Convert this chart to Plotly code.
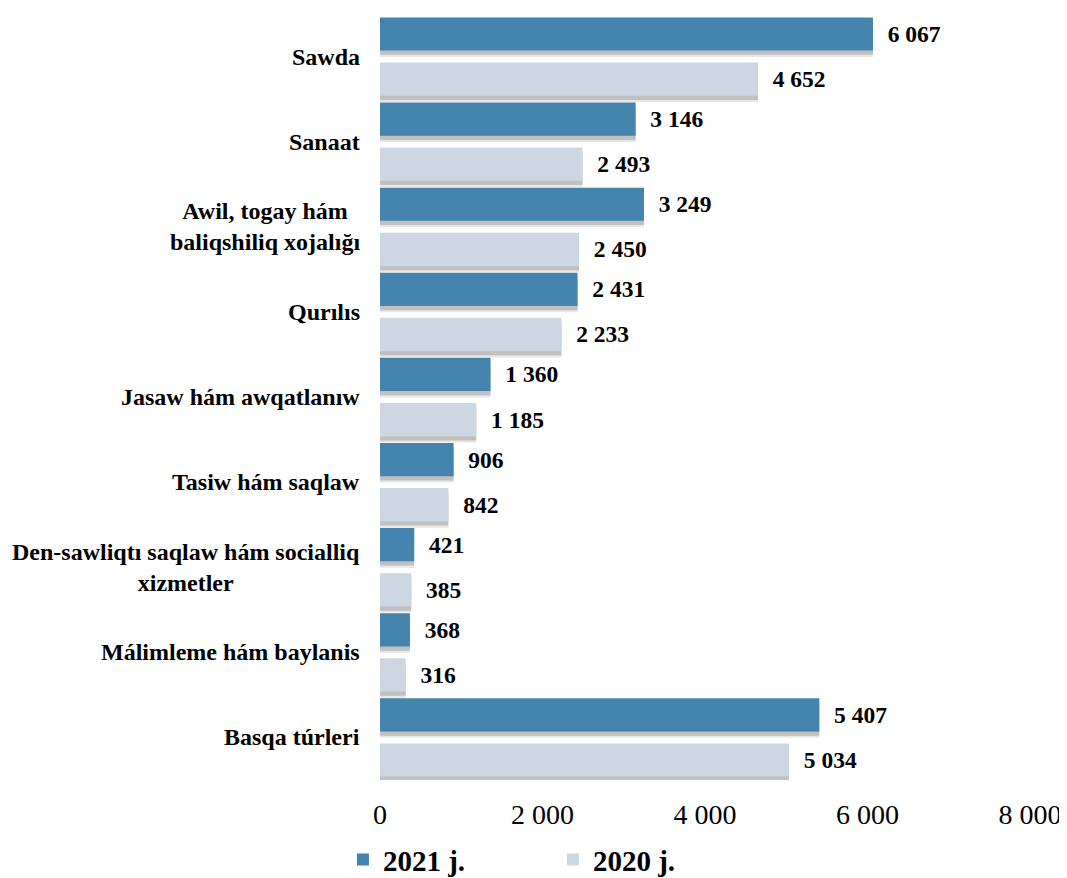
import plotly.graph_objects as go

categories = [
    "Sawda",
    "Sanaat",
    "Awil, togay hám<br>baliqshiliq xojalığı",
    "Qurılıs",
    "Jasaw hám awqatlanıw",
    "Tasiw hám saqlaw",
    "Den-sawliqtı saqlaw hám socialliq<br>xizmetler",
    "Málimleme hám baylanis",
    "Basqa túrleri",
]
values_2021 = [6067, 3146, 3249, 2431, 1360, 906, 421, 368, 5407]
values_2020 = [4652, 2493, 2450, 2233, 1185, 842, 385, 316, 5034]

tick_vals = [0, 2000, 4000, 6000, 8000]
tick_text = ["0", "2 000", "4 000", "6 000", "8 000"]


def fmt(v):
    return f"{v:,}".replace(",", " ")


dark = "#4383ad"
light = "#cdd7e1"
serif = "Liberation Serif, Times New Roman, serif"

fig = go.Figure()

# soft drop shadows under the bars
for vals, off in [(values_2021, -0.46), (values_2020, 0.07)]:
    for shift, alpha in [(0.075, 0.13), (0.05, 0.22)]:
        fig.add_trace(go.Bar(
            y=categories, x=vals, orientation="h",
            offset=off + shift, width=0.39,
            marker=dict(color=f"rgba(60,60,60,{alpha})", line=dict(width=0)),
            showlegend=False, hoverinfo="skip",
        ))

fig.add_trace(go.Bar(
    y=categories, x=values_2021, orientation="h", name="<b>2021 j.</b>",
    offset=-0.46, width=0.39,
    marker=dict(color=dark, line=dict(width=0)),
    text=[fmt(v) for v in values_2021], textposition="outside",
    textfont=dict(family=serif, size=23.5, color="black"),
    texttemplate="\u00a0\u00a0<b>%{text}</b>", cliponaxis=False,
))
fig.add_trace(go.Bar(
    y=categories, x=values_2020, orientation="h", name="<b>2020 j.</b>",
    offset=0.07, width=0.39,
    marker=dict(color=light, line=dict(width=0)),
    text=[fmt(v) for v in values_2020], textposition="outside",
    textfont=dict(family=serif, size=23.5, color="black"),
    texttemplate="\u00a0\u00a0<b>%{text}</b>", cliponaxis=False,
))

for cat in categories:
    fig.add_annotation(
        x=-0.028, xref="paper", y=cat, yref="y",
        text=f"<b>{cat}</b>", showarrow=False,
        xanchor="right", align="center",
        font=dict(family=serif, size=24, color="black"),
    )

# page body has an 8px margin, so the figure is a bit smaller than the window
fig.update_layout(
    width=1059, height=870,
    margin=dict(l=372, r=37, t=6, b=98),
    barmode="overlay",
    plot_bgcolor="white", paper_bgcolor="white",
    font=dict(family=serif, color="black"),
    showlegend=True,
    legend=dict(
        orientation="h", x=-0.057, xanchor="left",
        y=0.021, yref="container", yanchor="middle",
        entrywidth=165, entrywidthmode="pixels",
        font=dict(family=serif, size=29, color="black"),
        itemsizing="constant", traceorder="normal",
    ),
)
fig.update_xaxes(
    range=[0, 8000], tickvals=tick_vals, ticktext=tick_text,
    showgrid=False, zeroline=False, showline=False, automargin=False,
    tickfont=dict(family=serif, size=28, color="black"), ticks="", ticklabelstandoff=15,
)
fig.update_yaxes(
    range=[len(categories) - 0.5, -0.5], showticklabels=False, showgrid=False,
    automargin=False, zeroline=False, showline=False, ticks="",
)

fig.write_html("out.html")
